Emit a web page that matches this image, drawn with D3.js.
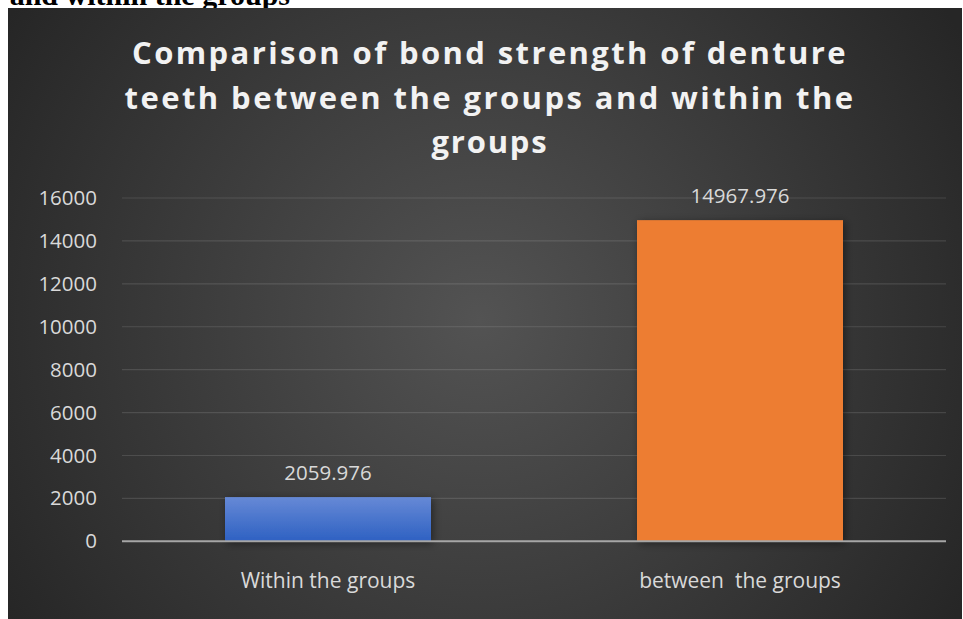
<!DOCTYPE html>
<html>
<head>
<meta charset="utf-8">
<script src="https://cdn.jsdelivr.net/npm/d3@7"></script>
<style>
  html, body { margin: 0; padding: 0; background: #fff; overflow: hidden; }
  svg { display: block; }
</style>
</head>
<body>
<script>

const W = 963;
const H = 619;

// chart data
const categories = ["Within the groups", "between  the groups"];
const values = [2059.976, 14967.976];
const valueLabels = ["2059.976", "14967.976"];
const yTicks = [0, 2000, 4000, 6000, 8000, 10000, 12000, 14000, 16000];
const titleLines = ["Comparison of bond strength of denture", "teeth between the groups and within the", "groups"];
const barColors = ["blue", "orange"];

const svg = d3.select("body")
.append("svg")
.attr("width", W)
.attr("height", H);

const defs = svg.append("defs");

const bg = defs.append("radialGradient")
.attr("id", "bg")
.attr("gradientUnits", "userSpaceOnUse")
.attr("cx", 480).attr("cy", 320).attr("r", 560);
bg.append("stop").attr("offset", "0%").attr("stop-color", "#535353");
bg.append("stop").attr("offset", "100%").attr("stop-color", "#262626");

const blue = defs.append("linearGradient")
.attr("id", "blue")
.attr("x1", 0).attr("y1", 0).attr("x2", 0).attr("y2", 1);
blue.append("stop").attr("offset", "0%").attr("stop-color", "#6689d6");
blue.append("stop").attr("offset", "100%").attr("stop-color", "#2e61c2");

const orange = defs.append("linearGradient")
.attr("id", "orange")
.attr("x1", 0).attr("y1", 0).attr("x2", 0).attr("y2", 1);
orange.append("stop").attr("offset", "0%").attr("stop-color", "#ed7d31");
orange.append("stop").attr("offset", "100%").attr("stop-color", "#ed7d31");

const shadow = defs.append("filter")
.attr("id", "shadow")
.attr("x", "-20%").attr("y", "-20%").attr("width", "140%").attr("height", "140%");
shadow.append("feDropShadow")
.attr("dx", 2).attr("dy", 2).attr("stdDeviation", 4)
.attr("flood-color", "#000").attr("flood-opacity", 0.45);

// clipped caption line from the page above the chart
svg.append("text")
.text("and within the groups")
.attr("x", 290)
.attr("y", 5)
.attr("text-anchor", "end")
.style("font-family", "'Liberation Serif', 'Times New Roman', serif")
.style("font-weight", "bold")
.style("font-size", "30px")
.attr("fill", "#000");

svg.append("rect")
.attr("x", 8)
.attr("y", 8)
.attr("width", 954)
.attr("height", H - 8)
.attr("fill", "url(#bg)");

// title
const titleWidths = [716, 731, 0];
const title = svg.append("g").attr("id", "title");
titleLines.forEach((line, i) => {
  const t = title.append("text")
  .text(line)
  .attr("x", 490)
  .attr("y", 64 + i * 44.5)
  .attr("text-anchor", "middle")
  .attr("fill", "#f2f2f2")
  .style("font-family", "'Open Sans', sans-serif")
  .style("font-weight", "bold")
  .style("font-size", "31px");
  const natural = t.node().getComputedTextLength();
  const sp = titleWidths[i] ? (titleWidths[i] - natural) / line.length : 1.8;
  t.style("letter-spacing", sp + "px");
});

const xScale = d3.scaleBand()
.domain(categories)
.range([122, 946])
.paddingInner(0.5)
.paddingOuter(0.25);

const yScale = d3.scaleLinear()
.domain([0, 16000])
.range([541.3, 198]);

// gridlines
svg.append("g")
.selectAll("line")
.data(yTicks.slice(1))
.enter()
.append("line")
.attr("x1", 122)
.attr("x2", 946)
.attr("y1", d => yScale(d))
.attr("y2", d => yScale(d))
.attr("stroke", "#ffffff")
.attr("stroke-opacity", 0.12)
.attr("stroke-width", 1.2);

const yAxis = d3.axisLeft(yScale)
.tickValues(yTicks)
.tickSize(0)
.tickPadding(25)
.tickFormat(d3.format("d"));

const yg = svg.append("g")
.attr("id", "y-axis")
.attr("transform", "translate(122,0)")
.call(yAxis);
yg.select(".domain").remove();
yg.selectAll("text")
.attr("fill", "#d9d9d9")
.style("font-family", "'Open Sans', sans-serif")
.style("font-size", "20.5px");

// bars
svg.selectAll(".bar")
.data(values)
.enter()
.append("rect")
.attr("class", "bar")
.attr("x", (d, i) => xScale(categories[i]))
.attr("y", d => yScale(d))
.attr("width", xScale.bandwidth())
.attr("height", d => yScale(0) - yScale(d))
.attr("fill", (d, i) => `url(#${barColors[i]})`)
.attr("filter", "url(#shadow)");

// zero line
svg.append("line")
.attr("x1", 122)
.attr("x2", 946)
.attr("y1", yScale(0))
.attr("y2", yScale(0))
.attr("stroke", "#a6a6a6")
.attr("stroke-width", 2);

// value labels
svg.selectAll(".val")
.data(values)
.enter()
.append("text")
.attr("class", "val")
.text((d, i) => valueLabels[i])
.attr("x", (d, i) => xScale(categories[i]) + xScale.bandwidth() / 2)
.attr("y", d => yScale(d) - 17.5)
.attr("text-anchor", "middle")
.attr("fill", "#d9d9d9")
.style("font-family", "'Open Sans', sans-serif")
.style("font-size", "20.5px");

// category labels
svg.selectAll(".cat")
.data(categories)
.enter()
.append("text")
.attr("class", "cat")
.text(d => d)
.attr("x", d => xScale(d) + xScale.bandwidth() / 2)
.attr("y", 588)
.attr("text-anchor", "middle")
.attr("fill", "#d9d9d9")
.style("white-space", "pre")
.style("font-family", "'Open Sans', sans-serif")
.style("font-size", "21px");

</script>
</body>
</html>
